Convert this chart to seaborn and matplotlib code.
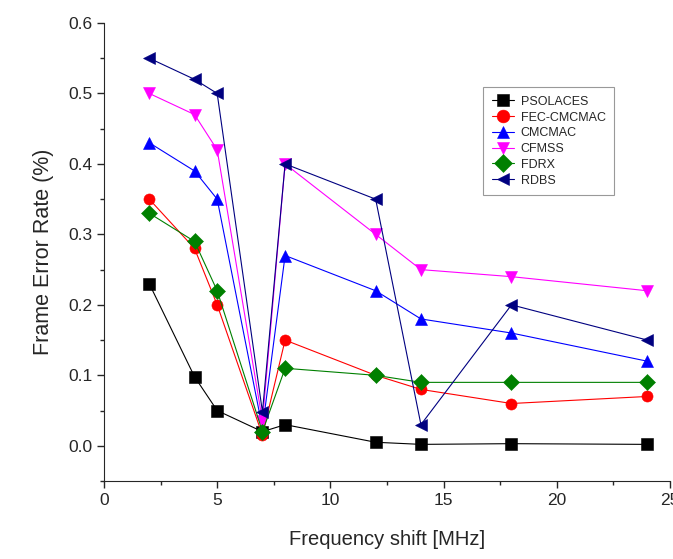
import pandas as pd
import matplotlib.pyplot as plt
import seaborn as sns
from matplotlib.ticker import MultipleLocator

# Datos
desplazamiento = [2, 4, 5, 7, 8, 12, 14, 18, 24]
psolaces = [0.23, 0.098, 0.05, 0.02, 0.03, 0.005, 0.002, 0.003, 0.002]
fec_cmcmac = [0.35, 0.28, 0.20, 0.015, 0.15, 0.10, 0.08, 0.06, 0.07]
cmcmac = [0.43, 0.39, 0.35, 0.025, 0.27, 0.22, 0.18, 0.16, 0.12]
cfmss = [0.50, 0.47, 0.42, 0.035, 0.40, 0.30, 0.25, 0.24, 0.22]
fdrx = [0.33, 0.29, 0.22, 0.02, 0.11, 0.10, 0.09, 0.09, 0.09]
rdbs = [0.55, 0.52, 0.50, 0.048, 0.40, 0.35, 0.03, 0.20, 0.15]

esquemas = ['PSOLACES', 'FEC-CMCMAC', 'CMCMAC', 'CFMSS', 'FDRX', 'RDBS']
series = [psolaces, fec_cmcmac, cmcmac, cfmss, fdrx, rdbs]
colores = ['black', 'red', 'blue', 'magenta', 'green', 'navy']
marcadores = ['s', 'o', '^', 'v', 'D', '<']

filas = []
for nombre, valores in zip(esquemas, series):
    for x, y in zip(desplazamiento, valores):
        filas.append({'freq': x, 'fer': y, 'esquema': nombre})
df = pd.DataFrame(filas)

sns.set_style('ticks')
plt.rcParams['font.family'] = ['Liberation Sans', 'DejaVu Sans']

fig = plt.figure(figsize=(6.73, 5.59), dpi=100)
ax = fig.add_axes([0.1545, 0.1395, 0.841, 0.8194])

sns.lineplot(data=df, x='freq', y='fer', hue='esquema', style='esquema',
             hue_order=esquemas, style_order=esquemas,
             palette=dict(zip(esquemas, colores)),
             markers=dict(zip(esquemas, marcadores)), dashes=False,
             markersize=8, markeredgewidth=0.4, linewidth=0.8, ax=ax)

for linea in ax.lines:
    linea.set_markeredgecolor(linea.get_color())

ax.set_xlim(0, 25)
ax.set_ylim(-0.05, 0.6)
ax.xaxis.set_major_locator(MultipleLocator(5))
ax.xaxis.set_minor_locator(MultipleLocator(2.5))
ax.yaxis.set_minor_locator(MultipleLocator(0.05))
ax.set_yticks([0.0, 0.1, 0.2, 0.3, 0.4, 0.5, 0.6])
ax.set_yticklabels(['0.0', '0.1', '0.2', '0.3', '0.4', '0.5', '0.6'])
ax.tick_params(which='major', direction='out', length=5, width=1, labelsize=12.5)
ax.tick_params(which='minor', direction='out', length=3, width=1)
ax.spines['top'].set_visible(False)
ax.spines['right'].set_visible(False)

ax.set_xlabel('Frequency shift [MHz]', fontsize=14.5, labelpad=16)
ax.set_ylabel('Frame Error Rate (%)', fontsize=15.5, labelpad=10)

leg = ax.legend(loc='upper left', bbox_to_anchor=(0.67, 0.86), borderaxespad=0,
                fontsize=9, markerscale=1.15,
                frameon=True, fancybox=False, edgecolor='gray',
                handlelength=1.8, handletextpad=0.5, borderpad=0.7,
                labelspacing=0.3)
leg.get_frame().set_linewidth(0.8)

fig.savefig('out.png', dpi=100)
